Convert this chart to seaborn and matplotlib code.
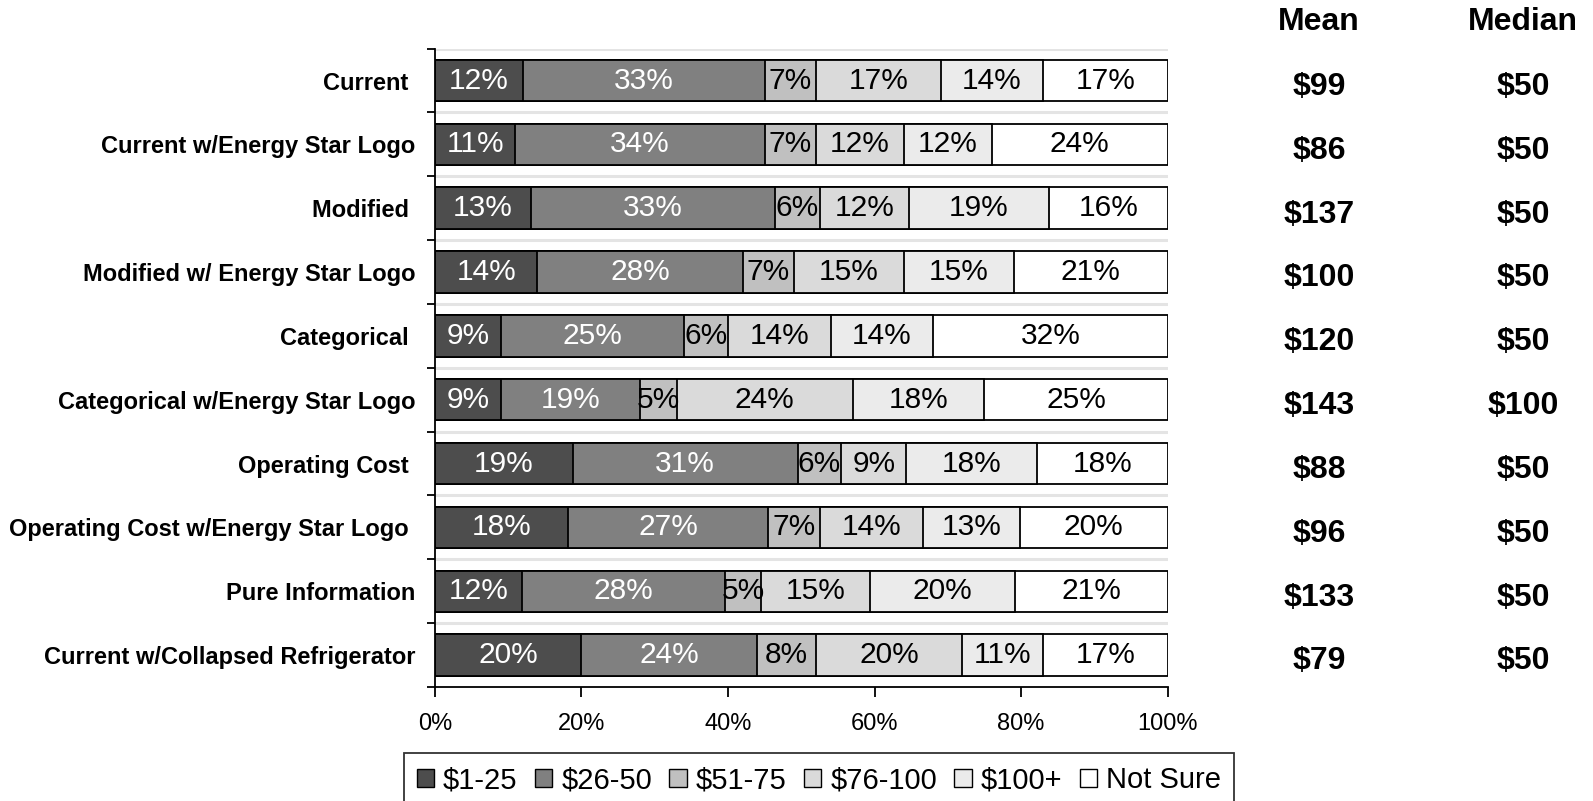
import numpy as np
import pandas as pd
import seaborn as sns
import matplotlib
matplotlib.use("Agg")
import matplotlib.pyplot as plt
from matplotlib.patches import Patch
from matplotlib.transforms import blended_transform_factory

# Labels on the left axis (top to bottom)
labels = [
    "Current ",
    "Current w/Energy Star Logo",
    "Modified ",
    "Modified w/ Energy Star Logo",
    "Categorical ",
    "Categorical w/Energy Star Logo",
    "Operating Cost ",
    "Operating Cost w/Energy Star Logo ",
    "Pure Information",
    "Current w/Collapsed Refrigerator",
]

# Share of responses per price band (%)
band_names = ["$1-25", "$26-50", "$51-75", "$76-100", "$100+", "Not Sure"]
share_1_25 = [12, 11, 13, 14, 9, 9, 19, 18, 12, 20]
share_26_50 = [33, 34, 33, 28, 25, 19, 31, 27, 28, 24]
share_51_75 = [7, 7, 6, 7, 6, 5, 6, 7, 5, 8]
share_76_100 = [17, 12, 12, 15, 14, 24, 9, 14, 15, 20]
share_100_plus = [14, 12, 19, 15, 14, 18, 18, 13, 20, 11]
share_not_sure = [17, 24, 16, 21, 32, 25, 18, 20, 21, 17]

mean_values = ["$99", "$86", "$137", "$100", "$120", "$143", "$88", "$96", "$133", "$79"]
median_values = ["$50", "$50", "$50", "$50", "$50", "$100", "$50", "$50", "$50", "$50"]

band_colors = ["#4d4d4d", "#808080", "#c0c0c0", "#dadada", "#ebebeb", "#ffffff"]
text_colors = ["white", "white", "black", "black", "black", "black"]

sns.set_style("white")
plt.rcParams["font.family"] = ["Liberation Sans", "DejaVu Sans"]
plt.rcParams["text.color"] = "black"
plt.rcParams["xtick.color"] = "black"
plt.rcParams["ytick.color"] = "black"

shares = np.array([share_1_25, share_26_50, share_51_75,
                   share_76_100, share_100_plus, share_not_sure], dtype=float)
totals = shares.sum(axis=0)
norm = shares / totals * 100.0
cum = np.cumsum(norm, axis=0)

fig = plt.figure(figsize=(15.93, 8.01), dpi=100)
ax = fig.add_axes([0.273, 0.1423, 0.460, 0.797])

# light separators between rows
for b in np.arange(-0.5, len(labels) - 0.5, 1.0):
    ax.axhline(b, color="#e4e4e4", lw=2.2, zorder=0)

# stacked bars: draw cumulative totals from the widest down
for i in range(len(band_names) - 1, -1, -1):
    df = pd.DataFrame({"label": labels, "cum": cum[i]})
    sns.barplot(data=df, x="cum", y="label", orient="h", color=band_colors[i],
                saturation=1, width=0.65, edgecolor="black", linewidth=1.3,
                ax=ax, zorder=2)

# percentage labels in each segment
for i in range(len(band_names)):
    left = cum[i] - norm[i]
    for r in range(len(labels)):
        ax.text(left[r] + norm[i][r] / 2, r, f"{int(shares[i][r])}%",
                ha="center", va="center", fontsize=21.5,
                color=text_colors[i], zorder=5)

ax.set_xlim(0, 100)
ax.set_ylim(len(labels) - 0.5, -0.5)
ax.set_xlabel("")
ax.set_ylabel("")
ax.set_xticks(np.arange(0, 101, 20))
ax.set_xticklabels([f"{v}%" for v in range(0, 101, 20)], fontsize=17)
ax.tick_params(axis="x", direction="out", length=7, width=1.3, pad=12,
               bottom=True, color="black", labelcolor="black")
ax.set_yticks(range(len(labels)))
ax.set_yticklabels(labels, fontsize=17, fontweight="bold")
ax.tick_params(axis="y", length=0, pad=14, labelcolor="black")
ax.set_yticks(np.arange(-0.5, len(labels), 1.0), minor=True)
ax.tick_params(axis="y", which="minor", direction="out", length=6, width=1.3,
               left=True, color="black")

for side in ["top", "right"]:
    ax.spines[side].set_visible(False)
for side in ["left", "bottom"]:
    ax.spines[side].set_color("black")
    ax.spines[side].set_linewidth(1.3)
    ax.spines[side].set_zorder(6)

# Mean / Median columns
tr = blended_transform_factory(fig.transFigure, ax.transData)
mean_x, median_x = 1319 / 1593, 1523 / 1593
fig.text(mean_x, 1 - 22 / 801, "Mean", ha="center", va="center",
         fontsize=23, fontweight="bold")
fig.text(median_x, 1 - 22 / 801, "Median", ha="center", va="center",
         fontsize=23, fontweight="bold")
for r in range(len(labels)):
    ax.text(mean_x, r + 0.1, mean_values[r], transform=tr, ha="center",
            va="center", fontsize=23, fontweight="bold", clip_on=False)
    ax.text(median_x, r + 0.1, median_values[r], transform=tr, ha="center",
            va="center", fontsize=23, fontweight="bold", clip_on=False)

# Legend
handles = [Patch(facecolor=c, edgecolor="black", linewidth=1.0) for c in band_colors]
leg = fig.legend(handles, band_names, loc="upper center",
                 bbox_to_anchor=(0.514, 0.06), ncol=6, fontsize=21,
                 frameon=True, fancybox=False, handlelength=0.6,
                 handleheight=0.6, handletextpad=0.3, columnspacing=0.6,
                 borderpad=0.45, borderaxespad=0)
leg.get_frame().set_edgecolor("black")
leg.get_frame().set_linewidth(1.3)

fig.savefig("out.png", dpi=100)
